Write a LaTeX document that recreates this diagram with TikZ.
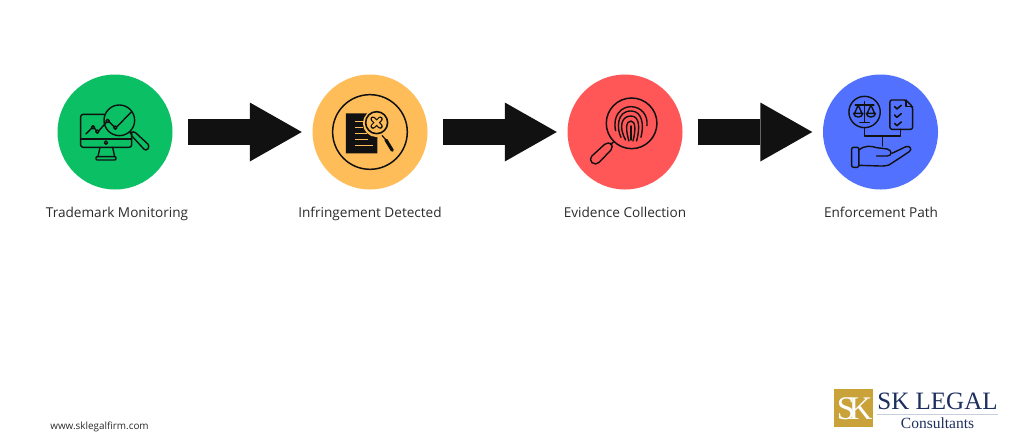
\documentclass[tikz,border=0pt]{standalone}
\usepackage{fontspec}
\setmainfont{Open Sans}
\newfontfamily\logofont{Liberation Serif}
\usetikzlibrary{arrows.meta}
\definecolor{cgreen}{HTML}{0ABF64}
\definecolor{corange}{HTML}{FFBD59}
\definecolor{cred}{HTML}{FF5757}
\definecolor{cblue}{HTML}{5271FF}
\definecolor{inkc}{HTML}{111111}
\definecolor{navy}{HTML}{1D2F5F}
\definecolor{gold}{HTML}{C9A239}
\definecolor{rulec}{HTML}{C8CEDB}
\definecolor{labelc}{HTML}{2B2B2B}
\tikzset{
  disc/.style={circle,minimum size=115pt,inner sep=0pt,fill=#1},
  caption/.style={font=\fontsize{13.6}{15}\selectfont,text=labelc,inner sep=0pt,anchor=base},
  bigarrow/.style={draw=inkc,line width=26pt,shorten <=15.5pt,shorten >=10.5pt,
     -{Triangle[length=52pt,width=59pt,line width=0pt]}},
  icon/.style={draw=inkc,line width=1.4pt,line cap=round,line join=round,fill=none}
}
\begin{document}
\begin{tikzpicture}[x=1pt,y=-1pt]
\useasboundingbox (0,0) rectangle (1024,445);
\fill[white] (0,0) rectangle (1024,445);
\node[disc=cgreen] (n1) at (115,132) {};
\node[disc=corange] (n2) at (370,132) {};
\node[disc=cred] (n3) at (625,132) {};
\node[disc=cblue] (n4) at (880.5,132) {};
\draw[bigarrow] (n1.east) -- (n2.west);
\draw[bigarrow] (n2.east) -- (n3.west);
\draw[bigarrow] (n3.east) -- (n4.west);
\node[caption] (t1) at (117,217.5) {Trademark Monitoring};
\node[caption] (t2) at (370,217.5) {Infringement Detected};
\node[caption] (t3) at (625,217.5) {Evidence Collection};
\node[caption] (t4) at (881,217.5) {Enforcement Path};
\node[font=\fontsize{9.9}{12}\selectfont,text=labelc,inner sep=0pt,anchor=base] (web) at (99.5,429) {www.sklegalfirm.com};

% icon 1
\begin{scope}[x=0.3333pt,y=-0.3333pt,shift={(120,180)}]
\draw[icon,rounded corners=2.5pt] (193,163) -- (122,163) -- (122,262) -- (275,262) -- (275,222);
\draw[icon] (122,237) -- (275,237);
\draw[icon] (198,248) circle[radius=5];
\draw[icon] (180,262) -- (174,290) (218,262) -- (224,290);
\draw[icon,rounded corners=1pt] (168,290) rectangle (228,300);
\draw[icon] (238,181) circle[radius=46];
\draw[icon] (268,216) -- (276,224);
\draw[icon,rounded corners=3pt] (270,222) -- (280,212) -- (330,258) -- (318,274) -- cycle;
\draw[icon] (138,222) -- (156,204) (163,204) -- (169,212) (176,213) -- (200,186) (208,186) -- (222,200) (231,200) -- (275,155);
\foreach \p in {(159,202),(172,215),(203,183),(226,203)} \draw[icon] \p circle[radius=5];
\end{scope}

% icon 2
\begin{scope}[x=0.3333pt,y=-0.3333pt,shift={(900,180)}]
\draw[icon,line width=1.5pt] (210,216) circle[radius=112];
\fill[inkc] (138,160) -- (205,160) -- (232,190) -- (232,280) -- (138,280) -- cycle;
\draw[corange,line width=1pt] (165,185) -- (195,185) (165,203) -- (190,203) (165,220) -- (200,220) (165,238) -- (205,238) (165,258) -- (218,258);
\draw[draw=corange,line width=1.4pt,fill=corange] (230,190) circle[radius=39];
\draw[icon,line width=1.6pt] (230,188) circle[radius=33];
\draw[inkc,line width=5pt,line cap=round] (219,177) -- (241,199) (241,177) -- (219,199);
\draw[corange,line width=2.6pt,line cap=round] (219,177) -- (241,199) (241,177) -- (219,199);
\draw[inkc,line width=1.2pt] (246,226) -- (256,238);
\draw[inkc,line width=3.2pt,line cap=round] (258,240) -- (277,271);
\end{scope}

% icon 3
\begin{scope}[x=0.3333pt,y=-0.3333pt,shift={(1665,180)}]
\draw[icon,line width=1.5pt] (230,190) circle[radius=76];
\draw[icon] (178,244) -- (167,254);
\draw[icon,rounded corners=5pt] (160,243) -- (178,260) -- (122,318) -- (100,298) -- cycle;
% fingerprint
\draw[icon] (182,212) .. controls (172,165) and (200,140) .. (228,140) .. controls (258,140) and (280,165) .. (276,197);
\draw[icon] (198,232) .. controls (185,205) and (185,153) .. (228,153) .. controls (262,153) and (268,195) .. (258,232);
\draw[icon] (212,240) .. controls (190,200) and (200,168) .. (228,168) .. controls (255,168) and (255,205) .. (245,243);
\draw[icon] (222,243) .. controls (212,210) and (212,183) .. (228,183) .. controls (243,183) and (242,215) .. (234,243);
\draw[icon] (228,198) -- (228,240);
\end{scope}

% icon 4
\begin{scope}[x=0.3333pt,y=-0.3333pt,shift={(2430,180)}]
\draw[icon] (164,156) circle[radius=47];
\draw[icon] (164,125) -- (164,185) (150,187) -- (178,187);
\draw[icon] (136,135) -- (192,135);
\draw[icon] (145,135) -- (134,160) (145,135) -- (156,160) (131,160) .. controls (133,175) and (157,175) .. (159,160) -- cycle;
\draw[icon] (183,135) -- (172,160) (183,135) -- (194,160) (169,160) .. controls (171,175) and (195,175) .. (197,160) -- cycle;
\draw[icon,rounded corners=2pt] (288,120) -- (240,120) -- (240,208) -- (308,208) -- (308,140) -- cycle;
\draw[icon] (288,120) -- (288,140) -- (308,140);
\foreach \yy in {0,25,50} \draw[icon,line width=1.6pt] (254,140+\yy) -- (261,147+\yy) -- (274,136+\yy);
\draw[icon] (164,203) -- (164,228) -- (272,228) -- (272,208);
\draw[icon] (218,228) -- (218,258);
\draw[icon,rounded corners=2pt] (125,262) rectangle (147,322);
\draw[icon] (147,270) .. controls (165,255) and (185,258) .. (200,263) -- (232,267) .. controls (246,270) and (248,288) .. (232,288) -- (200,288);
\draw[icon] (246,280) -- (288,260) .. controls (300,256) and (308,268) .. (298,275) -- (245,310) .. controls (235,318) and (225,318) .. (210,318) -- (147,316);
\end{scope}

% logo
\node[fill=gold,minimum width=38.7pt,minimum height=37.7pt,inner sep=0pt] (logo) at (853.3,408.2) {};
\node[font=\logofont\fontsize{33}{33}\selectfont,text=white,inner sep=0pt] (logoS) at (846,408.5) {S};
\node[font=\logofont\fontsize{33}{33}\selectfont,text=white,inner sep=0pt] (logoK) at (860.5,408.5) {K};
\node[font=\logofont\fontsize{25}{25}\selectfont,text=navy,inner sep=0pt] (brand) at (937.5,401) {SK LEGAL};
\draw[rulec,line width=0.8pt] (877,414) -- (998,414);
\node[font=\logofont\fontsize{15.5}{16}\selectfont,text=navy,inner sep=0pt] (sub) at (937.5,423) {Consultants};
\end{tikzpicture}
\end{document}
